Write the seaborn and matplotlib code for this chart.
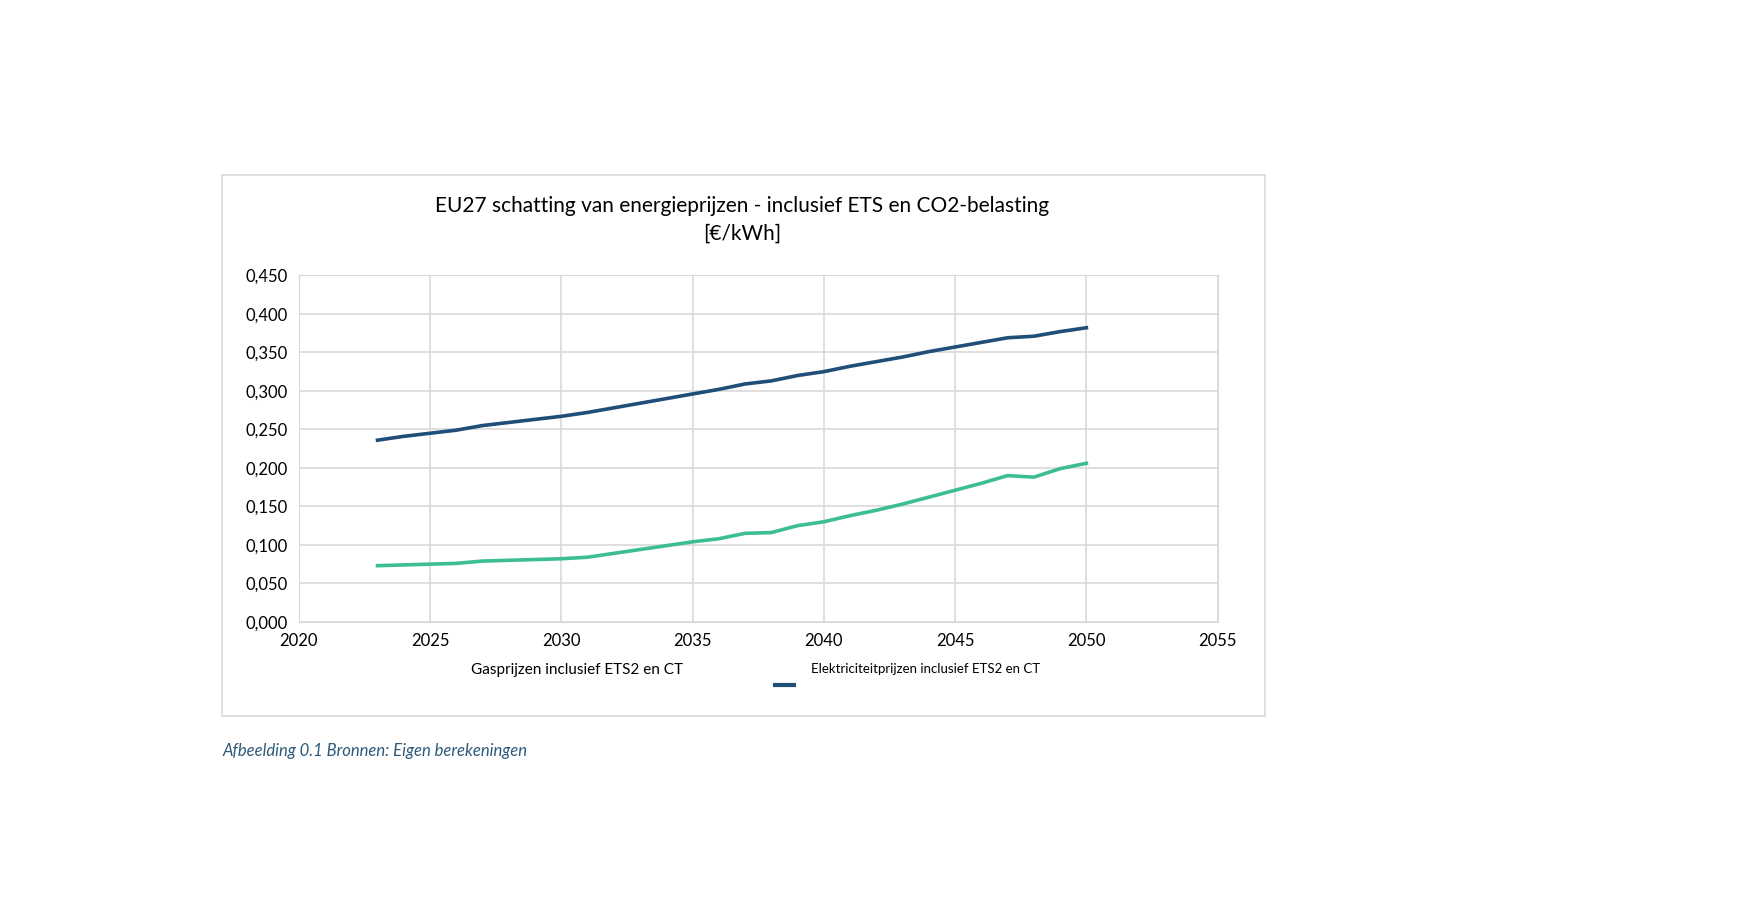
import matplotlib
matplotlib.use("Agg")
import matplotlib.pyplot as plt
import seaborn as sns
import pandas as pd
from matplotlib.patches import Rectangle
from matplotlib.lines import Line2D

years = list(range(2023, 2051))
elec = [0.236, 0.241, 0.245, 0.249, 0.255, 0.259, 0.263, 0.267, 0.272, 0.278, 0.284, 0.290, 0.296, 0.302,
        0.309, 0.313, 0.320, 0.325, 0.332, 0.338, 0.344, 0.351, 0.357, 0.363, 0.369, 0.371, 0.377, 0.382]
gas = [0.073, 0.074, 0.075, 0.076, 0.079, 0.080, 0.081, 0.082, 0.084, 0.089, 0.094, 0.099, 0.104, 0.108,
       0.115, 0.116, 0.125, 0.130, 0.138, 0.145, 0.153, 0.162, 0.171, 0.180, 0.190, 0.188, 0.199, 0.206]
x_ticks = [2020, 2025, 2030, 2035, 2040, 2045, 2050, 2055]
y_ticks = [0.0, 0.05, 0.1, 0.15, 0.2, 0.25, 0.3, 0.35, 0.4, 0.45]

plt.rcParams["font.family"] = "Lato"
fig = plt.figure(figsize=(17.37, 9.0), dpi=100)
fig.patches.append(Rectangle((0.128, 0.205), 0.600, 0.601, transform=fig.transFigure,
                             fill=False, edgecolor="#d9d9d9", lw=1.2))
ax = fig.add_axes([0.172, 0.309, 0.529, 0.385])
df = pd.DataFrame({"year": years + years, "v": elec + gas,
                   "s": ["Elektriciteitprijzen inclusief ETS2 en CT"] * len(years) + ["Gasprijzen inclusief ETS2 en CT"] * len(years)})
sns.lineplot(data=df, x="year", y="v", hue="s", palette=["#1f4e79", "#3dbd94"], lw=2.6, ax=ax, legend=False)
ax.set_xlim(2020, 2055)
ax.set_ylim(0, 0.45)
ax.set_xticks(x_ticks)
ax.set_yticks(y_ticks)
ax.set_yticklabels([f"{v:.3f}".replace(".", ",") for v in y_ticks])
ax.tick_params(labelsize=12, length=0, pad=8)
ax.grid(True, color="#d9d9d9", lw=1.2)
for s in ax.spines.values():
    s.set_color("#d9d9d9")
ax.set_xlabel(""); ax.set_ylabel("")
fig.text(0.427, 0.771, "EU27 schatting van energieprijzen - inclusief ETS en CO2-belasting",
         ha="center", va="center", fontsize=15)
fig.text(0.427, 0.740, "[€/kWh]", ha="center", va="center", fontsize=15)
fig.text(0.332, 0.256, "Gasprijzen inclusief ETS2 en CT", ha="center", va="center", fontsize=11)
fig.text(0.467, 0.257, "Elektriciteitprijzen inclusief ETS2 en CT", ha="left", va="center", fontsize=9.5)
fig.add_artist(Line2D([0.446, 0.457], [0.239, 0.239], transform=fig.transFigure, color="#1f4e79", lw=3))
fig.text(0.128, 0.166, "Afbeelding 0.1 Bronnen: Eigen berekeningen", fontsize=12,
         style="italic", color="#2e5a7a", va="center")
fig.savefig("out.png", dpi=100, facecolor="white")
